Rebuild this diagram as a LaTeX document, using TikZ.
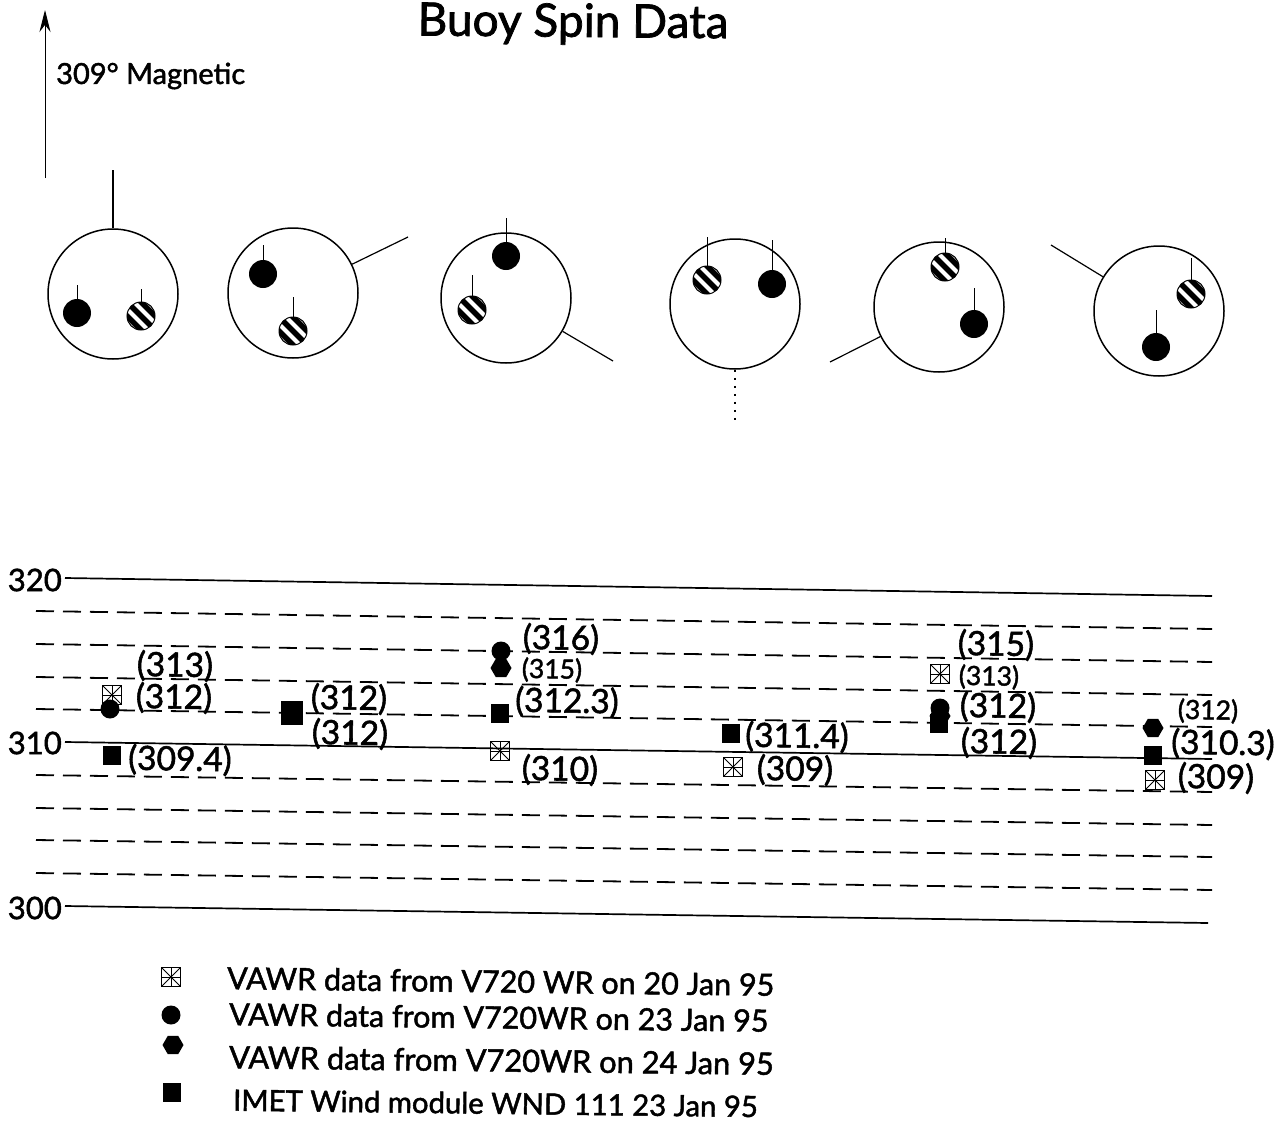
\documentclass[tikz,border=0pt]{standalone}
\usepackage{fontspec}
\setmainfont{Lato}[FakeBold=1.6]
\usepackage{tikz}
\usetikzlibrary{shapes.geometric,arrows,arrows.meta,positioning}
\tikzset
{
    buoy/.style      = {circle, draw=black, line width=1.5pt, minimum size=130pt, inner sep=0pt},
    blackdisc/.style = {circle, fill=black, minimum size=28pt, inner sep=0pt},
    stripedisc/.style = {circle, draw=black, line width=1pt, minimum size=28pt, inner sep=0pt, path picture={
        \begin{scope}[shift={(path picture bounding box.center)}]
            \draw[line width=5.5pt] (-18,-32) -- (18,4);
            \draw[line width=5.5pt] (-18,-18) -- (18,18);
            \draw[line width=5.5pt] (-18,-4) -- (18,32);
        \end{scope}}},
    sticktick/.style = {line width=1pt},
    vanetick/.style  = {line width=1.2pt},
    solidgrid/.style = {line width=1.7pt},
    dashgrid/.style  = {line width=1.8pt, dash pattern=on 18pt off 9pt},
    sqmark/.style    = {rectangle, fill=black, minimum width=18pt, minimum height=19pt, inner sep=0pt},
    dotmark/.style   = {circle, fill=black, minimum size=19pt, inner sep=0pt},
    hexmark/.style   = {regular polygon, regular polygon sides=6, fill=black, minimum size=21pt, inner sep=0pt},
    starmark/.style  = {rectangle, draw=black, line width=1pt, minimum size=19pt, inner sep=0pt, path picture={
        \draw[line width=1pt] (path picture bounding box.north west) -- (path picture bounding box.south east);
        \draw[line width=1pt] (path picture bounding box.north east) -- (path picture bounding box.south west);
        \draw[line width=1pt] (path picture bounding box.north) -- (path picture bounding box.south);
        \draw[line width=1pt] (path picture bounding box.west) -- (path picture bounding box.east);}},
    biglabel/.style  = {inner sep=0pt, rotate=-1, yshift=-1pt, font=\fontsize{33.5}{36}\selectfont},
    smalllabel/.style = {inner sep=0pt, rotate=-1, yshift=-1pt, font=\fontsize{26.5}{30}\selectfont},
    axislabel/.style = {inner sep=0pt, anchor=east, font=\fontsize{31}{36}\selectfont},
    legendtext/.style = {inner sep=0pt, anchor=west, rotate=-0.7, font=\fontsize{30.5}{32}\selectfont}
}

\begin{document}
\begin{tikzpicture}[x=1pt,y=-1pt,>=stealth']
    \useasboundingbox (0,0) rectangle (1286,1122);
    \clip (0,0) rectangle (1286,1122);

    \node [inner sep=0pt, rotate=-0.5, font=\fontsize{46}{48}\selectfont] (title) at (573,24) {Buoy Spin Data};
    \node [inner sep=0pt, anchor=west, font=\fontsize{29}{32}\selectfont] (north) at (56,76) {309° Magnetic};
    \coordinate (northtail) at (45,178);
    \coordinate (northhead) at (45,10);
    \draw [-{Stealth[length=22pt,width=11pt]}, line width=0.9pt] (northtail) -- (northhead);

    \node [buoy] (buoyA) at (113,294) {};
    \node [buoy] (buoyB) at (293,293) {};
    \node [buoy] (buoyC) at (506,298) {};
    \node [buoy] (buoyD) at (735,304) {};
    \node [buoy] (buoyE) at (939,307) {};
    \node [buoy] (buoyF) at (1159,311) {};

    \coordinate (vaneA) at (113,170);
    \coordinate (vaneB) at (408,237);
    \coordinate (vaneC) at (613,361);
    \coordinate (vaneD) at (735,422);
    \coordinate (vaneE) at (830,362);
    \coordinate (vaneF) at (1051,245);
    \draw [vanetick] (buoyA) -- (vaneA);
    \draw [vanetick] (buoyB) -- (vaneB);
    \draw [vanetick] (buoyC) -- (vaneC);
    \draw [vanetick, dash pattern=on 2pt off 6pt] (buoyD) -- (vaneD);
    \draw [vanetick] (buoyE) -- (vaneE);
    \draw [vanetick] (buoyF) -- (vaneF);

    \node [blackdisc]  (blackA)  at (77,313) {};
    \node [stripedisc] (stripeA) at (141,316) {};
    \node [blackdisc]  (blackB)  at (263,274) {};
    \node [stripedisc] (stripeB) at (293,331) {};
    \node [blackdisc]  (blackC)  at (506,256) {};
    \node [stripedisc] (stripeC) at (472,310) {};
    \node [blackdisc]  (blackD)  at (772,284) {};
    \node [stripedisc] (stripeD) at (707,280) {};
    \node [blackdisc]  (blackE)  at (974,324) {};
    \node [stripedisc] (stripeE) at (945,267) {};
    \node [blackdisc]  (blackF)  at (1156,347) {};
    \node [stripedisc] (stripeF) at (1191,294) {};

    \coordinate (tipblackA)  at (77,285);
    \coordinate (tipstripeA) at (141,289);
    \coordinate (tipblackB)  at (263,245);
    \coordinate (tipstripeB) at (293,297);
    \coordinate (tipblackC)  at (506,218);
    \coordinate (tipstripeC) at (472,275);
    \coordinate (tipblackD)  at (772,240);
    \coordinate (tipstripeD) at (707,237);
    \coordinate (tipblackE)  at (974,288);
    \coordinate (tipstripeE) at (945,238);
    \coordinate (tipblackF)  at (1156,310);
    \coordinate (tipstripeF) at (1191,258);
    \draw [sticktick] (blackA) -- (tipblackA);
    \draw [sticktick] (stripeA) -- (tipstripeA);
    \draw [sticktick] (blackB) -- (tipblackB);
    \draw [sticktick] (stripeB) -- (tipstripeB);
    \draw [sticktick] (blackC) -- (tipblackC);
    \draw [sticktick] (stripeC) -- (tipstripeC);
    \draw [sticktick] (blackD) -- (tipblackD);
    \draw [sticktick] (stripeD) -- (tipstripeD);
    \draw [sticktick] (blackE) -- (tipblackE);
    \draw [sticktick] (stripeE) -- (tipstripeE);
    \draw [sticktick] (blackF) -- (tipblackF);
    \draw [sticktick] (stripeF) -- (tipstripeF);

    \node [axislabel] (axisA) at (62,580) {320};
    \node [axislabel] (axisB) at (62,743) {310};
    \node [axislabel] (axisC) at (62,908) {300};

    \draw [solidgrid] (65,578) -- (1212,596);
    \draw [dashgrid]  (36,611) -- (1212,629);
    \draw [dashgrid]  (36,644) -- (1212,662);
    \draw [dashgrid]  (36,677) -- (1212,695);
    \draw [dashgrid]  (36,709) -- (1212,727);
    \draw [solidgrid] (65,742) -- (1212,759);
    \draw [dashgrid]  (36,775) -- (1212,792);
    \draw [dashgrid]  (36,808) -- (1212,825);
    \draw [dashgrid]  (36,840) -- (1212,857);
    \draw [dashgrid]  (36,873) -- (1212,890);
    \draw [solidgrid] (65,906) -- (1208,923);

    \node [starmark] (starA) at (112,695) {};
    \node [dotmark]  (dotA)  at (110,709) {};
    \node [sqmark]   (sqA)   at (112,755) {};
    \node [sqmark, minimum width=22pt, minimum height=24pt] (sqB) at (292,713) {};
    \node [dotmark]  (dotC)  at (501,651) {};
    \node [hexmark]  (hexC)  at (501,668) {};
    \node [sqmark]   (sqC)   at (500,713) {};
    \node [starmark] (starC) at (500,751) {};
    \node [sqmark]   (sqD)   at (731,733) {};
    \node [starmark] (starD) at (733,767) {};
    \node [starmark] (starE) at (940,674) {};
    \node [dotmark]  (dotE)  at (940,708) {};
    \node [hexmark]  (hexE)  at (940,716) {};
    \node [sqmark]   (sqE)   at (939,723) {};
    \node [hexmark]  (hexF)  at (1153,728) {};
    \node [sqmark]   (sqF)   at (1153,755) {};
    \node [starmark] (starF) at (1155,780) {};

    \node [biglabel]   (labelAa) at (175,665)  {(313)};
    \node [biglabel]   (labelAb) at (174,697)  {(312)};
    \node [biglabel]   (labelAc) at (180,759)  {(309.4)};
    \node [biglabel]   (labelBa) at (349,698)  {(312)};
    \node [biglabel]   (labelBb) at (350,733)  {(312)};
    \node [biglabel]   (labelCa) at (561,638)  {(316)};
    \node [smalllabel] (labelCb) at (552,669)  {(315)};
    \node [biglabel]   (labelCc) at (567,701)  {(312.3)};
    \node [biglabel]   (labelCd) at (560,769)  {(310)};
    \node [biglabel]   (labelDa) at (797,736)  {(311.4)};
    \node [biglabel]   (labelDb) at (795,769)  {(309)};
    \node [biglabel]   (labelEa) at (996,644)  {(315)};
    \node [smalllabel] (labelEb) at (989,676)  {(313)};
    \node [biglabel]   (labelEc) at (998,706)  {(312)};
    \node [biglabel]   (labelEd) at (999,742)  {(312)};
    \node [smalllabel] (labelFa) at (1208,710) {(312)};
    \node [biglabel]   (labelFb) at (1223,743) {(310.3)};
    \node [biglabel]   (labelFc) at (1216,777) {(309)};

    \node [starmark] (legendstar) at (171,977) {};
    \node [dotmark]  (legenddot)  at (171,1015) {};
    \node [hexmark]  (legendhex)  at (173,1045) {};
    \node [sqmark]   (legendsq)   at (172,1092) {};
    \node [legendtext] (legendA) at (227,978)  {VAWR data from V720 WR on 20 Jan 95};
    \node [legendtext] (legendB) at (229,1014) {VAWR data from V720WR on 23 Jan 95};
    \node [legendtext, font=\fontsize{30.8}{32}\selectfont] (legendC) at (229,1057) {VAWR data from V720WR on 24 Jan 95};
    \node [legendtext, font=\fontsize{29.3}{32}\selectfont] (legendD) at (233,1100) {IMET Wind module WND 111 23 Jan 95};
\end{tikzpicture}
\end{document}
